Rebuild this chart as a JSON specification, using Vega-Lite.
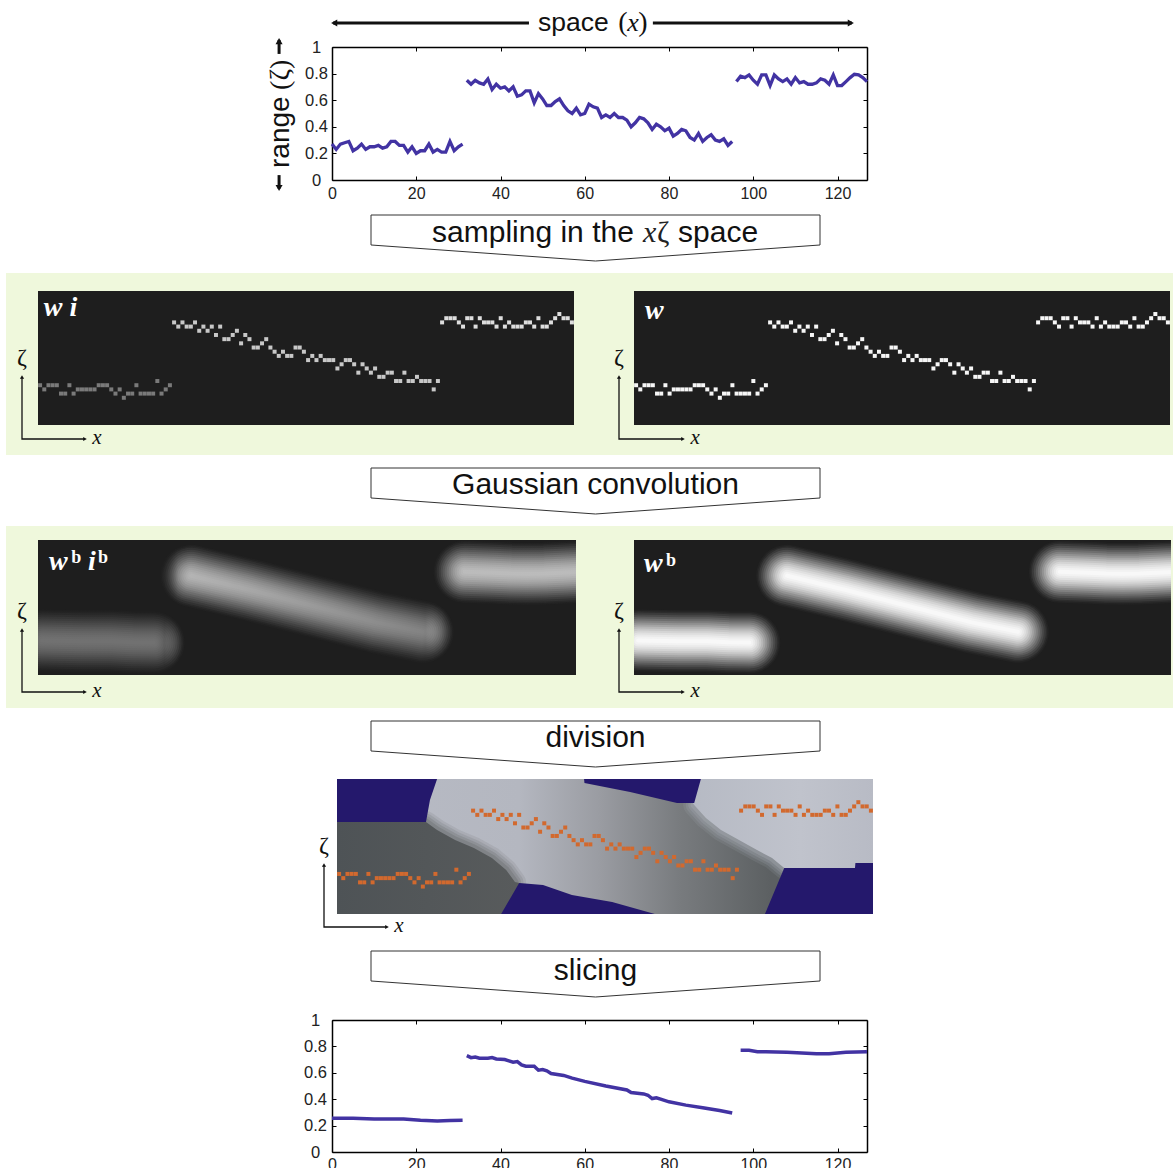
{"$schema":"https://vega.github.io/schema/vega-lite/v6.json","width":1173,"height":1168,"padding":0,"autosize":{"type":"none"},"background":"white","config":{"view":{"stroke":null}},
"resolve":{"scale":{"x":"independent","y":"independent"},"axis":{"x":"independent","y":"independent"}},
"datasets":{
"noisy":[{"x":0,"z":0.27,"b":9,"s":1},{"x":1,"z":0.23,"b":8,"s":1},{"x":2,"z":0.27,"b":9,"s":1},{"x":3,"z":0.28,"b":9,"s":1},{"x":4,"z":0.29,"b":9,"s":1},{"x":5,"z":0.22,"b":7,"s":1},{"x":6,"z":0.24,"b":7,"s":1},{"x":7,"z":0.27,"b":9,"s":1},{"x":8,"z":0.23,"b":7,"s":1},{"x":9,"z":0.25,"b":8,"s":1},{"x":10,"z":0.25,"b":8,"s":1},{"x":11,"z":0.26,"b":8,"s":1},{"x":12,"z":0.24,"b":8,"s":1},{"x":13,"z":0.25,"b":8,"s":1},{"x":14,"z":0.29,"b":9,"s":1},{"x":15,"z":0.29,"b":9,"s":1},{"x":16,"z":0.26,"b":9,"s":1},{"x":17,"z":0.26,"b":8,"s":1},{"x":18,"z":0.21,"b":7,"s":1},{"x":19,"z":0.25,"b":8,"s":1},{"x":20,"z":0.2,"b":6,"s":1},{"x":21,"z":0.22,"b":7,"s":1},{"x":22,"z":0.22,"b":7,"s":1},{"x":23,"z":0.27,"b":9,"s":1},{"x":24,"z":0.21,"b":7,"s":1},{"x":25,"z":0.23,"b":7,"s":1},{"x":26,"z":0.21,"b":7,"s":1},{"x":27,"z":0.21,"b":7,"s":1},{"x":28,"z":0.29,"b":10,"s":1},{"x":29,"z":0.22,"b":7,"s":1},{"x":30,"z":0.25,"b":8,"s":1},{"x":31,"z":0.27,"b":9,"s":1},
{"x":32,"z":0.75,"b":24,"s":2},{"x":33,"z":0.72,"b":23,"s":2},{"x":34,"z":0.75,"b":24,"s":2},{"x":35,"z":0.73,"b":23,"s":2},{"x":36,"z":0.72,"b":23,"s":2},{"x":37,"z":0.76,"b":24,"s":2},{"x":38,"z":0.68,"b":22,"s":2},{"x":39,"z":0.72,"b":23,"s":2},{"x":40,"z":0.69,"b":22,"s":2},{"x":41,"z":0.7,"b":23,"s":2},{"x":42,"z":0.67,"b":21,"s":2},{"x":43,"z":0.7,"b":23,"s":2},{"x":44,"z":0.63,"b":20,"s":2},{"x":45,"z":0.64,"b":20,"s":2},{"x":46,"z":0.67,"b":21,"s":2},{"x":47,"z":0.67,"b":22,"s":2},{"x":48,"z":0.58,"b":19,"s":2},{"x":49,"z":0.65,"b":21,"s":2},{"x":50,"z":0.61,"b":20,"s":2},{"x":51,"z":0.56,"b":18,"s":2},{"x":52,"z":0.56,"b":18,"s":2},{"x":53,"z":0.59,"b":19,"s":2},{"x":54,"z":0.61,"b":20,"s":2},{"x":55,"z":0.56,"b":18,"s":2},{"x":56,"z":0.52,"b":17,"s":2},{"x":57,"z":0.5,"b":16,"s":2},{"x":58,"z":0.54,"b":17,"s":2},{"x":59,"z":0.49,"b":16,"s":2},{"x":60,"z":0.5,"b":16,"s":2},{"x":61,"z":0.57,"b":18,"s":2},{"x":62,"z":0.55,"b":18,"s":2},{"x":63,"z":0.54,"b":17,"s":2},{"x":64,"z":0.47,"b":15,"s":2},{"x":65,"z":0.49,"b":16,"s":2},{"x":66,"z":0.47,"b":15,"s":2},{"x":67,"z":0.5,"b":16,"s":2},{"x":68,"z":0.47,"b":15,"s":2},{"x":69,"z":0.47,"b":15,"s":2},{"x":70,"z":0.45,"b":15,"s":2},{"x":71,"z":0.4,"b":13,"s":2},{"x":72,"z":0.43,"b":14,"s":2},{"x":73,"z":0.47,"b":15,"s":2},{"x":74,"z":0.46,"b":15,"s":2},{"x":75,"z":0.43,"b":14,"s":2},{"x":76,"z":0.38,"b":12,"s":2},{"x":77,"z":0.42,"b":14,"s":2},{"x":78,"z":0.4,"b":13,"s":2},{"x":79,"z":0.37,"b":12,"s":2},{"x":80,"z":0.39,"b":13,"s":2},{"x":81,"z":0.33,"b":11,"s":2},{"x":82,"z":0.35,"b":11,"s":2},{"x":83,"z":0.38,"b":12,"s":2},{"x":84,"z":0.37,"b":12,"s":2},{"x":85,"z":0.32,"b":10,"s":2},{"x":86,"z":0.3,"b":10,"s":2},{"x":87,"z":0.35,"b":12,"s":2},{"x":88,"z":0.29,"b":10,"s":2},{"x":89,"z":0.32,"b":10,"s":2},{"x":90,"z":0.34,"b":11,"s":2},{"x":91,"z":0.3,"b":10,"s":2},{"x":92,"z":0.29,"b":10,"s":2},{"x":93,"z":0.31,"b":10,"s":2},{"x":94,"z":0.26,"b":8,"s":2},{"x":95,"z":0.29,"b":10,"s":2},
{"x":96,"z":0.74,"b":24,"s":3},{"x":97,"z":0.78,"b":25,"s":3},{"x":98,"z":0.77,"b":25,"s":3},{"x":99,"z":0.79,"b":25,"s":3},{"x":100,"z":0.75,"b":24,"s":3},{"x":101,"z":0.72,"b":23,"s":3},{"x":102,"z":0.79,"b":25,"s":3},{"x":103,"z":0.79,"b":25,"s":3},{"x":104,"z":0.71,"b":23,"s":3},{"x":105,"z":0.79,"b":25,"s":3},{"x":106,"z":0.76,"b":24,"s":3},{"x":107,"z":0.74,"b":24,"s":3},{"x":108,"z":0.76,"b":24,"s":3},{"x":109,"z":0.72,"b":23,"s":3},{"x":110,"z":0.77,"b":25,"s":3},{"x":111,"z":0.73,"b":23,"s":3},{"x":112,"z":0.74,"b":24,"s":3},{"x":113,"z":0.72,"b":23,"s":3},{"x":114,"z":0.72,"b":23,"s":3},{"x":115,"z":0.73,"b":23,"s":3},{"x":116,"z":0.76,"b":24,"s":3},{"x":117,"z":0.75,"b":24,"s":3},{"x":118,"z":0.72,"b":23,"s":3},{"x":119,"z":0.79,"b":25,"s":3},{"x":120,"z":0.71,"b":23,"s":3},{"x":121,"z":0.71,"b":23,"s":3},{"x":122,"z":0.74,"b":24,"s":3},{"x":123,"z":0.77,"b":25,"s":3},{"x":124,"z":0.795,"b":26,"s":3},{"x":125,"z":0.79,"b":25,"s":3},{"x":126,"z":0.77,"b":25,"s":3},{"x":127,"z":0.74,"b":24,"s":3}],
"smooth":[{"x":0,"z":0.255,"s":1},{"x":5,"z":0.255,"s":1},{"x":10,"z":0.25,"s":1},{"x":17,"z":0.25,"s":1},{"x":21,"z":0.24,"s":1},{"x":25,"z":0.235,"s":1},{"x":28,"z":0.238,"s":1},{"x":31,"z":0.24,"s":1},
{"x":32,"z":0.73,"s":2},{"x":33,"z":0.715,"s":2},{"x":34,"z":0.72,"s":2},{"x":35,"z":0.71,"s":2},{"x":37,"z":0.71,"s":2},{"x":38,"z":0.715,"s":2},{"x":39,"z":0.705,"s":2},{"x":41,"z":0.7,"s":2},{"x":42,"z":0.69,"s":2},{"x":43,"z":0.68,"s":2},{"x":44,"z":0.685,"s":2},{"x":45,"z":0.66,"s":2},{"x":46,"z":0.65,"s":2},{"x":48,"z":0.65,"s":2},{"x":49,"z":0.62,"s":2},{"x":50,"z":0.625,"s":2},{"x":51,"z":0.615,"s":2},{"x":52,"z":0.595,"s":2},{"x":55,"z":0.58,"s":2},{"x":57,"z":0.56,"s":2},{"x":60,"z":0.535,"s":2},{"x":65,"z":0.5,"s":2},{"x":70,"z":0.47,"s":2},{"x":71,"z":0.45,"s":2},{"x":74,"z":0.44,"s":2},{"x":75,"z":0.43,"s":2},{"x":76,"z":0.405,"s":2},{"x":77,"z":0.41,"s":2},{"x":78,"z":0.4,"s":2},{"x":80,"z":0.38,"s":2},{"x":84,"z":0.355,"s":2},{"x":88,"z":0.335,"s":2},{"x":92,"z":0.315,"s":2},{"x":95,"z":0.295,"s":2},
{"x":97,"z":0.77,"s":3},{"x":99,"z":0.77,"s":3},{"x":101,"z":0.76,"s":3},{"x":103,"z":0.76,"s":3},{"x":108,"z":0.755,"s":3},{"x":115,"z":0.745,"s":3},{"x":118,"z":0.745,"s":3},{"x":122,"z":0.755,"s":3},{"x":127,"z":0.76,"s":3}],
"glow":[{"x":0.5,"z":0.255,"s":1},{"x":10,"z":0.25,"s":1},{"x":17,"z":0.25,"s":1},{"x":22,"z":0.243,"s":1},{"x":27,"z":0.24,"s":1},
{"x":36,"z":0.735,"s":2},{"x":50,"z":0.63,"s":2},{"x":60,"z":0.55,"s":2},{"x":70,"z":0.47,"s":2},{"x":80,"z":0.39,"s":2},{"x":91,"z":0.32,"s":2},
{"x":101,"z":0.765,"s":3},{"x":108,"z":0.757,"s":3},{"x":112,"z":0.752,"s":3},{"x":116,"z":0.75,"s":3},{"x":120,"z":0.752,"s":3},{"x":124,"z":0.757,"s":3},{"x":129,"z":0.765,"s":3}],
"box":[{"x":0,"y":1},{"x":1,"y":1},{"x":1,"y":0.348},{"x":0.5,"y":0},{"x":0,"y":0.348},{"x":0,"y":1}],
"miniL":[{"x":0,"y":1},{"x":0,"y":0},{"x":1,"y":0}],
"miniH":[{"x":0,"y":1,"h":"triangle-up"},{"x":1,"y":0,"h":"triangle-right"}],
"miniX":[{"x":1.19,"y":0.02,"t":"x"}],
"miniZ":[{"x":0,"y":1.3,"t":"ζ"}],
"panelA":[{"x":-0.5,"x1":127.5,"z":0,"z1":1}],
"bndLight":[{"x":84.8,"z":0.807},{"x":87.6,"z":0.711},{"x":91.2,"z":0.622},{"x":95.5,"z":0.548},{"x":99.8,"z":0.474},{"x":103.4,"z":0.415},{"x":106.3,"z":0.341}],
"bndDark":[{"x":20.75,"z":0.681},{"x":23.4,"z":0.622},{"x":27.7,"z":0.548},{"x":32.2,"z":0.489},{"x":36.5,"z":0.415},{"x":39.9,"z":0.326},{"x":42,"z":0.237}]
},
"layer":[
{"data":{"values":[{"x":0,"x1":1,"y":0.6104,"y1":0.7663},{"x":0,"x1":1,"y":0.3938,"y1":0.5497}]},"mark":{"type":"rect","fill":"#eff8dc"},"encoding":{"x":{"field":"x","type":"quantitative","scale":{"domain":[0,1],"range":[6,1173],"nice":false,"zero":false},"axis":null},"x2":{"field":"x1"},"y":{"field":"y","type":"quantitative","scale":{"domain":[0,1],"range":[1168,0],"nice":false,"zero":false},"axis":null},"y2":{"field":"y1"}}},

{"data":{"name":"noisy"},"encoding":{"x":{"field":"x","type":"quantitative","scale":{"domain":[-0.5,127.5],"range":[38,574],"nice":false,"zero":false},"axis":null},"y":{"field":"b","type":"quantitative","scale":{"domain":[-0.5,31.5],"range":[425,291],"nice":false,"zero":false},"axis":null}},"layer":[
{"data":{"values":[{"x":-0.5,"x1":127.5,"b":-0.5,"b1":31.5}]},"mark":{"type":"rect","fill":"#1e1e1e"},"encoding":{"x2":{"field":"x1"},"y2":{"field":"b1"}}},
{"mark":{"type":"square","size":16,"opacity":1,"filled":true},"encoding":{"color":{"field":"s","type":"nominal","scale":{"domain":[1,2,3],"range":["#7a7a7a","#c8c8c8","#dedede"]},"legend":null}}},
{"data":{"values":[{"x":0.9,"b":25.5,"t":"w i"}]},"mark":{"type":"text","font":"Liberation Serif","fontStyle":"italic","fontWeight":"bold","fontSize":28,"color":"white","align":"left","baseline":"alphabetic"},"encoding":{"text":{"field":"t"}}}
]},

{"data":{"name":"noisy"},"encoding":{"x":{"field":"x","type":"quantitative","scale":{"domain":[-0.5,127.5],"range":[634,1170],"nice":false,"zero":false},"axis":null},"y":{"field":"b","type":"quantitative","scale":{"domain":[-0.5,31.5],"range":[425,291],"nice":false,"zero":false},"axis":null}},"layer":[
{"data":{"values":[{"x":-0.5,"x1":127.5,"b":-0.5,"b1":31.5}]},"mark":{"type":"rect","fill":"#1e1e1e"},"encoding":{"x2":{"field":"x1"},"y2":{"field":"b1"}}},
{"mark":{"type":"square","size":16,"opacity":1,"filled":true,"color":"#f6f6f6"},"encoding":{}},
{"data":{"values":[{"x":2.1,"b":24.8,"t":"w"}]},"mark":{"type":"text","font":"Liberation Serif","fontStyle":"italic","fontWeight":"bold","fontSize":28,"color":"white","align":"left","baseline":"alphabetic"},"encoding":{"text":{"field":"t"}}}
]},

{"data":{"name":"glow"},"encoding":{"x":{"field":"x","type":"quantitative","scale":{"domain":[-0.5,127.5],"range":[38,576],"nice":false,"zero":false},"axis":null},"y":{"field":"z","type":"quantitative","scale":{"domain":[0,1],"range":[675,540],"nice":false,"zero":false},"axis":null}},"layer":[
{"data":{"name":"panelA"},"mark":{"type":"rect","fill":"#1e1e1e"},"encoding":{"x2":{"field":"x1"},"y2":{"field":"z1"}}},
{"mark":{"type":"line","stroke":"#232323","strokeWidth":62,"strokeCap":"round","strokeJoin":"round"},"encoding":{"detail":{"field":"s","type":"nominal"}}},
{"mark":{"type":"line","stroke":"#2c2c2c","strokeWidth":59,"strokeCap":"round","strokeJoin":"round"},"encoding":{"detail":{"field":"s","type":"nominal"}}},
{"mark":{"type":"line","stroke":"#3a3a3a","strokeWidth":56,"strokeCap":"round","strokeJoin":"round"},"encoding":{"detail":{"field":"s","type":"nominal"}}},
{"mark":{"type":"line","stroke":"#4a4a4a","strokeWidth":52,"strokeCap":"round","strokeJoin":"round"},"encoding":{"detail":{"field":"s","type":"nominal"}}},
{"mark":{"type":"line","stroke":"#5c5c5c","strokeWidth":48,"strokeCap":"round","strokeJoin":"round"},"encoding":{"detail":{"field":"s","type":"nominal"}}},
{"mark":{"type":"line","stroke":"#6e6e6e","strokeWidth":44,"strokeCap":"round","strokeJoin":"round"},"encoding":{"detail":{"field":"s","type":"nominal"}}},
{"mark":{"type":"line","stroke":"#808080","strokeWidth":40,"strokeCap":"round","strokeJoin":"round"},"encoding":{"detail":{"field":"s","type":"nominal"}}},
{"mark":{"type":"line","stroke":"#929292","strokeWidth":36,"strokeCap":"round","strokeJoin":"round"},"encoding":{"detail":{"field":"s","type":"nominal"}}},
{"mark":{"type":"line","stroke":"#a4a4a4","strokeWidth":32,"strokeCap":"round","strokeJoin":"round"},"encoding":{"detail":{"field":"s","type":"nominal"}}},
{"mark":{"type":"line","stroke":"#b6b6b6","strokeWidth":28,"strokeCap":"round","strokeJoin":"round"},"encoding":{"detail":{"field":"s","type":"nominal"}}},
{"mark":{"type":"line","stroke":"#c6c6c6","strokeWidth":24,"strokeCap":"round","strokeJoin":"round"},"encoding":{"detail":{"field":"s","type":"nominal"}}},
{"mark":{"type":"line","stroke":"#d4d4d4","strokeWidth":20,"strokeCap":"round","strokeJoin":"round"},"encoding":{"detail":{"field":"s","type":"nominal"}}},
{"mark":{"type":"line","stroke":"#e0e0e0","strokeWidth":16,"strokeCap":"round","strokeJoin":"round"},"encoding":{"detail":{"field":"s","type":"nominal"}}},
{"mark":{"type":"line","stroke":"#eaeaea","strokeWidth":12,"strokeCap":"round","strokeJoin":"round"},"encoding":{"detail":{"field":"s","type":"nominal"}}},
{"mark":{"type":"line","stroke":"#f2f2f2","strokeWidth":8,"strokeCap":"round","strokeJoin":"round"},"encoding":{"detail":{"field":"s","type":"nominal"}}},
{"mark":{"type":"line","stroke":"#f8f8f8","strokeWidth":4,"strokeCap":"round","strokeJoin":"round"},"encoding":{"detail":{"field":"s","type":"nominal"}}},
{"data":{"name":"panelA"},"mark":{"type":"rect","fill":{"gradient":"linear","x1":0,"x2":1,"y1":0,"y2":0,"stops":[{"offset":0,"color":"rgba(30,30,30,0.62)"},{"offset":0.235,"color":"rgba(30,30,30,0.62)"},{"offset":0.26,"color":"rgba(30,30,30,0.3)"},{"offset":0.72,"color":"rgba(30,30,30,0.54)"},{"offset":0.75,"color":"rgba(30,30,30,0.28)"},{"offset":1,"color":"rgba(30,30,30,0.28)"}]}},"encoding":{"x2":{"field":"x1"},"y2":{"field":"z1"}}},
{"data":{"values":[{"x":-8,"x1":-0.5,"z":0,"z1":1},{"x":127.5,"x1":136,"z":0,"z1":1}]},"mark":{"type":"rect","fill":"#eff8dc"},"encoding":{"x2":{"field":"x1"},"y2":{"field":"z1"}}},
{"data":{"values":[{"x":2.1,"z":0.778,"t":"w"},{"x":11.4,"z":0.778,"t":"i"}]},"mark":{"type":"text","font":"Liberation Serif","fontStyle":"italic","fontWeight":"bold","fontSize":28,"color":"white","align":"left","baseline":"alphabetic"},"encoding":{"text":{"field":"t"}}},
{"data":{"values":[{"x":7.4,"z":0.83,"t":"b"},{"x":13.8,"z":0.83,"t":"b"}]},"mark":{"type":"text","font":"Liberation Serif","fontWeight":"bold","fontSize":18,"color":"white","align":"left","baseline":"alphabetic"},"encoding":{"text":{"field":"t"}}}
]},

{"data":{"name":"glow"},"encoding":{"x":{"field":"x","type":"quantitative","scale":{"domain":[-0.5,127.5],"range":[634,1171],"nice":false,"zero":false},"axis":null},"y":{"field":"z","type":"quantitative","scale":{"domain":[0,1],"range":[675,540],"nice":false,"zero":false},"axis":null}},"layer":[
{"data":{"name":"panelA"},"mark":{"type":"rect","fill":"#1e1e1e"},"encoding":{"x2":{"field":"x1"},"y2":{"field":"z1"}}},
{"mark":{"type":"line","stroke":"#232323","strokeWidth":62,"strokeCap":"round","strokeJoin":"round"},"encoding":{"detail":{"field":"s","type":"nominal"}}},
{"mark":{"type":"line","stroke":"#2c2c2c","strokeWidth":59,"strokeCap":"round","strokeJoin":"round"},"encoding":{"detail":{"field":"s","type":"nominal"}}},
{"mark":{"type":"line","stroke":"#3a3a3a","strokeWidth":56,"strokeCap":"round","strokeJoin":"round"},"encoding":{"detail":{"field":"s","type":"nominal"}}},
{"mark":{"type":"line","stroke":"#4a4a4a","strokeWidth":52,"strokeCap":"round","strokeJoin":"round"},"encoding":{"detail":{"field":"s","type":"nominal"}}},
{"mark":{"type":"line","stroke":"#5c5c5c","strokeWidth":48,"strokeCap":"round","strokeJoin":"round"},"encoding":{"detail":{"field":"s","type":"nominal"}}},
{"mark":{"type":"line","stroke":"#6e6e6e","strokeWidth":44,"strokeCap":"round","strokeJoin":"round"},"encoding":{"detail":{"field":"s","type":"nominal"}}},
{"mark":{"type":"line","stroke":"#808080","strokeWidth":40,"strokeCap":"round","strokeJoin":"round"},"encoding":{"detail":{"field":"s","type":"nominal"}}},
{"mark":{"type":"line","stroke":"#929292","strokeWidth":36,"strokeCap":"round","strokeJoin":"round"},"encoding":{"detail":{"field":"s","type":"nominal"}}},
{"mark":{"type":"line","stroke":"#a4a4a4","strokeWidth":32,"strokeCap":"round","strokeJoin":"round"},"encoding":{"detail":{"field":"s","type":"nominal"}}},
{"mark":{"type":"line","stroke":"#b6b6b6","strokeWidth":28,"strokeCap":"round","strokeJoin":"round"},"encoding":{"detail":{"field":"s","type":"nominal"}}},
{"mark":{"type":"line","stroke":"#c6c6c6","strokeWidth":24,"strokeCap":"round","strokeJoin":"round"},"encoding":{"detail":{"field":"s","type":"nominal"}}},
{"mark":{"type":"line","stroke":"#d4d4d4","strokeWidth":20,"strokeCap":"round","strokeJoin":"round"},"encoding":{"detail":{"field":"s","type":"nominal"}}},
{"mark":{"type":"line","stroke":"#e0e0e0","strokeWidth":16,"strokeCap":"round","strokeJoin":"round"},"encoding":{"detail":{"field":"s","type":"nominal"}}},
{"mark":{"type":"line","stroke":"#eaeaea","strokeWidth":12,"strokeCap":"round","strokeJoin":"round"},"encoding":{"detail":{"field":"s","type":"nominal"}}},
{"mark":{"type":"line","stroke":"#f2f2f2","strokeWidth":8,"strokeCap":"round","strokeJoin":"round"},"encoding":{"detail":{"field":"s","type":"nominal"}}},
{"mark":{"type":"line","stroke":"#f8f8f8","strokeWidth":4,"strokeCap":"round","strokeJoin":"round"},"encoding":{"detail":{"field":"s","type":"nominal"}}},
{"data":{"values":[{"x":-8,"x1":-0.5,"z":0,"z1":1},{"x":127.5,"x1":129,"z":0,"z1":1}]},"mark":{"type":"rect","fill":"#eff8dc"},"encoding":{"x2":{"field":"x1"},"y2":{"field":"z1"}}},
{"data":{"values":[{"x":1.9,"z":0.763,"t":"w"}]},"mark":{"type":"text","font":"Liberation Serif","fontStyle":"italic","fontWeight":"bold","fontSize":28,"color":"white","align":"left","baseline":"alphabetic"},"encoding":{"text":{"field":"t"}}},
{"data":{"values":[{"x":7.1,"z":0.807,"t":"b"}]},"mark":{"type":"text","font":"Liberation Serif","fontWeight":"bold","fontSize":18,"color":"white","align":"left","baseline":"alphabetic"},"encoding":{"text":{"field":"t"}}}
]},

{"encoding":{"x":{"field":"x","type":"quantitative","scale":{"domain":[-0.5,127.5],"range":[337,873],"nice":false,"zero":false},"axis":null},"y":{"field":"z","type":"quantitative","scale":{"domain":[0,1],"range":[914,779],"nice":false,"zero":false},"axis":null}},"layer":[
{"data":{"name":"panelA"},"mark":{"type":"rect","fill":{"gradient":"linear","x1":0,"x2":1,"y1":0,"y2":0,"stops":[{"offset":0,"color":"#b8bbc5"},{"offset":0.34,"color":"#b4b7c0"},{"offset":0.49,"color":"#9a9ca2"},{"offset":0.64,"color":"#787b7e"},{"offset":0.81,"color":"#5c6062"},{"offset":1,"color":"#5c6062"}]}},"encoding":{"x2":{"field":"x1"},"y2":{"field":"z1"}}},
{"data":{"name":"bndLight"},"mark":{"type":"line","stroke":"#b6bac4","strokeWidth":22,"opacity":0.12,"strokeCap":"round","strokeJoin":"round"},"encoding":{}},
{"data":{"name":"bndLight"},"mark":{"type":"line","stroke":"#b6bac4","strokeWidth":17,"opacity":0.16,"strokeCap":"round","strokeJoin":"round"},"encoding":{}},
{"data":{"name":"bndLight"},"mark":{"type":"line","stroke":"#b6bac4","strokeWidth":12,"opacity":0.2,"strokeCap":"round","strokeJoin":"round"},"encoding":{}},
{"data":{"name":"bndLight"},"mark":{"type":"line","stroke":"#b6bac4","strokeWidth":7,"opacity":0.25,"strokeCap":"round","strokeJoin":"round"},"encoding":{}},
{"data":{"values":[{"x":84,"z":0.84,"z2":1},{"x":84.8,"z":0.807,"z2":1},{"x":87.6,"z":0.711,"z2":1},{"x":91.2,"z":0.622,"z2":1},{"x":95.5,"z":0.548,"z2":1},{"x":99.8,"z":0.474,"z2":1},{"x":103.4,"z":0.415,"z2":1},{"x":106.3,"z":0.341,"z2":1},{"x":127.5,"z":0.341,"z2":1}]},"mark":{"type":"area","orient":"vertical","fill":{"gradient":"linear","x1":0,"x2":1,"y1":0,"y2":0,"stops":[{"offset":0,"color":"#b6bac4"},{"offset":0.6,"color":"#c0c3cc"},{"offset":1,"color":"#b8bbc5"}]}},"encoding":{"y2":{"field":"z2"}}},
{"data":{"name":"bndDark"},"mark":{"type":"line","stroke":"#585b5c","strokeWidth":22,"opacity":0.12,"strokeCap":"round","strokeJoin":"round"},"encoding":{}},
{"data":{"name":"bndDark"},"mark":{"type":"line","stroke":"#585b5c","strokeWidth":17,"opacity":0.16,"strokeCap":"round","strokeJoin":"round"},"encoding":{}},
{"data":{"name":"bndDark"},"mark":{"type":"line","stroke":"#585b5c","strokeWidth":12,"opacity":0.2,"strokeCap":"round","strokeJoin":"round"},"encoding":{}},
{"data":{"name":"bndDark"},"mark":{"type":"line","stroke":"#585b5c","strokeWidth":7,"opacity":0.25,"strokeCap":"round","strokeJoin":"round"},"encoding":{}},
{"data":{"values":[{"x":-0.5,"z":0.681,"z2":0},{"x":20.75,"z":0.681,"z2":0},{"x":23.4,"z":0.622,"z2":0},{"x":27.7,"z":0.548,"z2":0},{"x":32.2,"z":0.489,"z2":0},{"x":36.5,"z":0.415,"z2":0},{"x":39.9,"z":0.326,"z2":0},{"x":42,"z":0.237,"z2":0},{"x":43,"z":0.23,"z2":0}]},"mark":{"type":"area","orient":"vertical","fill":{"gradient":"linear","x1":0,"x2":1,"y1":0,"y2":0,"stops":[{"offset":0,"color":"#4e5356"},{"offset":1,"color":"#585b5c"}]}},"encoding":{"y2":{"field":"z2"}}},
{"data":{"values":[{"x":-0.5,"z":1,"z2":0.681,"r":1},{"x":20.75,"z":1,"z2":0.681,"r":1},{"x":21.7,"z":1,"z2":0.844,"r":1},{"x":23.4,"z":1,"z2":1,"r":1},
{"x":58.5,"z":1,"z2":1,"r":2},{"x":58.6,"z":1,"z2":0.97,"r":2},{"x":69.5,"z":1,"z2":0.904,"r":2},{"x":80.7,"z":1,"z2":0.822,"r":2},{"x":84.8,"z":1,"z2":0.822,"r":2},{"x":86.4,"z":1,"z2":1,"r":2},
{"x":38.7,"z":0,"z2":0,"r":3},{"x":43,"z":0,"z2":0.23,"r":3},{"x":48.7,"z":0,"z2":0.215,"r":3},{"x":55.6,"z":0,"z2":0.141,"r":3},{"x":65.2,"z":0,"z2":0.089,"r":3},{"x":75.4,"z":0,"z2":0,"r":3},
{"x":101.7,"z":0,"z2":0,"r":4},{"x":104.1,"z":0,"z2":0.178,"r":4},{"x":106.3,"z":0,"z2":0.341,"r":4},{"x":123.2,"z":0,"z2":0.341,"r":4},{"x":123.3,"z":0,"z2":0.378,"r":4},{"x":127.5,"z":0,"z2":0.378,"r":4}]},"mark":{"type":"area","orient":"vertical","fill":"#24186c"},"encoding":{"y2":{"field":"z2"},"detail":{"field":"r","type":"nominal"}}}
]},
{"data":{"name":"noisy"},"mark":{"type":"square","size":16,"opacity":1,"filled":true,"color":"#d2692e"},"encoding":{"x":{"field":"x","type":"quantitative","scale":{"domain":[-0.5,127.5],"range":[337,873],"nice":false,"zero":false},"axis":null},"y":{"field":"b","type":"quantitative","scale":{"domain":[-0.5,31.5],"range":[914,779],"nice":false,"zero":false},"axis":null}}},

{"encoding":{"x":{"field":"x","type":"quantitative","scale":{"domain":[0,1],"range":[22,85],"nice":false,"zero":false},"axis":null},"y":{"field":"y","type":"quantitative","scale":{"domain":[0,1],"range":[439,377],"nice":false,"zero":false},"axis":null}},"layer":[
{"data":{"name":"miniL"},"mark":{"type":"line","stroke":"#111111","strokeWidth":1.3,"order":false},"encoding":{}},
{"data":{"name":"miniH"},"mark":{"type":"point","filled":true,"size":18,"color":"#111111","opacity":1},"encoding":{"shape":{"field":"h","type":"nominal","scale":null,"legend":null}}},
{"data":{"name":"miniX"},"mark":{"type":"text","font":"Liberation Serif","fontStyle":"italic","fontSize":21,"color":"#111111"},"encoding":{"text":{"field":"t"}}},
{"data":{"name":"miniZ"},"mark":{"type":"text","font":"Liberation Serif","fontSize":24,"color":"#111111"},"encoding":{"text":{"field":"t"}}}
]},
{"encoding":{"x":{"field":"x","type":"quantitative","scale":{"domain":[0,1],"range":[619,683],"nice":false,"zero":false},"axis":null},"y":{"field":"y","type":"quantitative","scale":{"domain":[0,1],"range":[439,377],"nice":false,"zero":false},"axis":null}},"layer":[
{"data":{"name":"miniL"},"mark":{"type":"line","stroke":"#111111","strokeWidth":1.3,"order":false},"encoding":{}},
{"data":{"name":"miniH"},"mark":{"type":"point","filled":true,"size":18,"color":"#111111","opacity":1},"encoding":{"shape":{"field":"h","type":"nominal","scale":null,"legend":null}}},
{"data":{"name":"miniX"},"mark":{"type":"text","font":"Liberation Serif","fontStyle":"italic","fontSize":21,"color":"#111111"},"encoding":{"text":{"field":"t"}}},
{"data":{"name":"miniZ"},"mark":{"type":"text","font":"Liberation Serif","fontSize":24,"color":"#111111"},"encoding":{"text":{"field":"t"}}}
]},
{"encoding":{"x":{"field":"x","type":"quantitative","scale":{"domain":[0,1],"range":[22,85],"nice":false,"zero":false},"axis":null},"y":{"field":"y","type":"quantitative","scale":{"domain":[0,1],"range":[692,630],"nice":false,"zero":false},"axis":null}},"layer":[
{"data":{"name":"miniL"},"mark":{"type":"line","stroke":"#111111","strokeWidth":1.3,"order":false},"encoding":{}},
{"data":{"name":"miniH"},"mark":{"type":"point","filled":true,"size":18,"color":"#111111","opacity":1},"encoding":{"shape":{"field":"h","type":"nominal","scale":null,"legend":null}}},
{"data":{"name":"miniX"},"mark":{"type":"text","font":"Liberation Serif","fontStyle":"italic","fontSize":21,"color":"#111111"},"encoding":{"text":{"field":"t"}}},
{"data":{"name":"miniZ"},"mark":{"type":"text","font":"Liberation Serif","fontSize":24,"color":"#111111"},"encoding":{"text":{"field":"t"}}}
]},
{"encoding":{"x":{"field":"x","type":"quantitative","scale":{"domain":[0,1],"range":[619,683],"nice":false,"zero":false},"axis":null},"y":{"field":"y","type":"quantitative","scale":{"domain":[0,1],"range":[692,630],"nice":false,"zero":false},"axis":null}},"layer":[
{"data":{"name":"miniL"},"mark":{"type":"line","stroke":"#111111","strokeWidth":1.3,"order":false},"encoding":{}},
{"data":{"name":"miniH"},"mark":{"type":"point","filled":true,"size":18,"color":"#111111","opacity":1},"encoding":{"shape":{"field":"h","type":"nominal","scale":null,"legend":null}}},
{"data":{"name":"miniX"},"mark":{"type":"text","font":"Liberation Serif","fontStyle":"italic","fontSize":21,"color":"#111111"},"encoding":{"text":{"field":"t"}}},
{"data":{"name":"miniZ"},"mark":{"type":"text","font":"Liberation Serif","fontSize":24,"color":"#111111"},"encoding":{"text":{"field":"t"}}}
]},
{"encoding":{"x":{"field":"x","type":"quantitative","scale":{"domain":[0,1],"range":[324,387],"nice":false,"zero":false},"axis":null},"y":{"field":"y","type":"quantitative","scale":{"domain":[0,1],"range":[927,865],"nice":false,"zero":false},"axis":null}},"layer":[
{"data":{"name":"miniL"},"mark":{"type":"line","stroke":"#111111","strokeWidth":1.3,"order":false},"encoding":{}},
{"data":{"name":"miniH"},"mark":{"type":"point","filled":true,"size":18,"color":"#111111","opacity":1},"encoding":{"shape":{"field":"h","type":"nominal","scale":null,"legend":null}}},
{"data":{"name":"miniX"},"mark":{"type":"text","font":"Liberation Serif","fontStyle":"italic","fontSize":21,"color":"#111111"},"encoding":{"text":{"field":"t"}}},
{"data":{"name":"miniZ"},"mark":{"type":"text","font":"Liberation Serif","fontSize":24,"color":"#111111"},"encoding":{"text":{"field":"t"}}}
]},

{"data":{"name":"noisy"},"mark":{"type":"line","stroke":"#4233a3","strokeWidth":3.3},"encoding":{"detail":{"field":"s","type":"nominal"},
"x":{"field":"x","type":"quantitative","scale":{"domain":[0,127],"range":[332,867],"nice":false,"zero":false},"axis":{"orient":"bottom","offset":-988,"values":[0,20,40,60,80,100,120],"format":"d","grid":false,"title":null,"domainColor":"#000000","domainWidth":1.5,"tickColor":"#000000","tickSize":-4,"labelFont":"Liberation Sans","labelFontSize":16,"labelColor":"#222222","labelPadding":9,"labelFlush":false}},
"y":{"field":"z","type":"quantitative","scale":{"domain":[0,1],"range":[180,47],"nice":false,"zero":false},"axis":{"orient":"left","offset":-332,"values":[0,0.2,0.4,0.6,0.8,1],"format":"~g","grid":false,"title":null,"domainColor":"#000000","domainWidth":1.5,"tickColor":"#000000","tickSize":-4,"labelFont":"Liberation Sans","labelFontSize":16.5,"labelColor":"#222222","labelAlign":"center","labelPadding":20}}}},
{"data":{"name":"noisy"},"mark":{"type":"line","opacity":0},"encoding":{"detail":{"field":"s","type":"nominal"},
"x":{"field":"x","type":"quantitative","scale":{"domain":[0,127],"range":[332,867],"nice":false,"zero":false},"axis":{"orient":"top","offset":-47,"values":[0,20,40,60,80,100,120],"grid":false,"title":null,"labels":false,"domainColor":"#000000","domainWidth":1.5,"tickColor":"#000000","tickSize":-4}},
"y":{"field":"z","type":"quantitative","scale":{"domain":[0,1],"range":[180,47],"nice":false,"zero":false},"axis":{"orient":"right","offset":-306,"values":[0,0.2,0.4,0.6,0.8,1],"grid":false,"title":null,"labels":false,"domainColor":"#000000","domainWidth":1.5,"tickColor":"#000000","tickSize":-4}}}},

{"data":{"name":"smooth"},"mark":{"type":"line","stroke":"#4233a3","strokeWidth":3.5},"encoding":{"detail":{"field":"s","type":"nominal"},
"x":{"field":"x","type":"quantitative","scale":{"domain":[0,127],"range":[332,867],"nice":false,"zero":false},"axis":{"orient":"bottom","offset":-16,"values":[0,20,40,60,80,100,120],"format":"d","grid":false,"title":null,"domainColor":"#000000","domainWidth":1.5,"tickColor":"#000000","tickSize":-4,"labelFont":"Liberation Sans","labelFontSize":16,"labelColor":"#222222","labelPadding":8,"labelFlush":false}},
"y":{"field":"z","type":"quantitative","scale":{"domain":[0,1],"range":[1152,1020],"nice":false,"zero":false},"axis":{"orient":"left","offset":-332,"values":[0,0.2,0.4,0.6,0.8,1],"format":"~g","grid":false,"title":null,"domainColor":"#000000","domainWidth":1.5,"tickColor":"#000000","tickSize":-4,"labelFont":"Liberation Sans","labelFontSize":16.5,"labelColor":"#222222","labelAlign":"center","labelPadding":21}}}},
{"data":{"name":"smooth"},"mark":{"type":"line","opacity":0},"encoding":{"detail":{"field":"s","type":"nominal"},
"x":{"field":"x","type":"quantitative","scale":{"domain":[0,127],"range":[332,867],"nice":false,"zero":false},"axis":{"orient":"top","offset":-1020,"values":[0,20,40,60,80,100,120],"grid":false,"title":null,"labels":false,"domainColor":"#000000","domainWidth":1.5,"tickColor":"#000000","tickSize":-4}},
"y":{"field":"z","type":"quantitative","scale":{"domain":[0,1],"range":[1152,1020],"nice":false,"zero":false},"axis":{"orient":"right","offset":-306,"values":[0,0.2,0.4,0.6,0.8,1],"grid":false,"title":null,"labels":false,"domainColor":"#000000","domainWidth":1.5,"tickColor":"#000000","tickSize":-4}}}},

{"encoding":{"x":{"field":"x","type":"quantitative","scale":{"domain":[0,1],"range":[330,855],"nice":false,"zero":false},"axis":null},"y":{"field":"y","type":"quantitative","scale":{"domain":[0,1],"range":[192,23],"nice":false,"zero":false},"axis":null}},"layer":[
{"data":{"values":[{"x":0.006,"y":1,"s":"a"},{"x":0.379,"y":1,"s":"a"},{"x":0.615,"y":1,"s":"b"},{"x":0.994,"y":1,"s":"b"},{"x":-0.097,"y":0.9,"s":"c"},{"x":-0.097,"y":0.817,"s":"c"},{"x":-0.097,"y":0.1,"s":"d"},{"x":-0.097,"y":0.02,"s":"d"}]},"mark":{"type":"line","stroke":"#111111","strokeWidth":3,"order":false},"encoding":{"detail":{"field":"s","type":"nominal"}}},
{"data":{"values":[{"x":0.008,"y":1,"h":"triangle-left"},{"x":0.992,"y":1,"h":"triangle-right"},{"x":-0.097,"y":0.893,"h":"triangle-up"},{"x":-0.097,"y":0.024,"h":"triangle-down"}]},"mark":{"type":"point","filled":true,"size":50,"color":"#111111","opacity":1},"encoding":{"shape":{"field":"h","type":"nominal","scale":null,"legend":null}}},
{"data":{"values":[{"x":0.396,"y":1,"t":"space"}]},"mark":{"type":"text","font":"Liberation Sans","fontSize":26.5,"align":"left","baseline":"middle","color":"#111111"},"encoding":{"text":{"field":"t"}}},
{"data":{"values":[{"x":0.549,"y":1,"t":"("},{"x":0.587,"y":1,"t":")"}]},"mark":{"type":"text","font":"Liberation Serif","fontSize":28,"align":"left","baseline":"middle","color":"#111111"},"encoding":{"text":{"field":"t"}}},
{"data":{"values":[{"x":0.566,"y":1,"t":"x"}]},"mark":{"type":"text","font":"Liberation Serif","fontStyle":"italic","fontSize":26,"align":"left","baseline":"middle","color":"#111111"},"encoding":{"text":{"field":"t"}}},
{"data":{"values":[{"x":-0.078,"y":0.142,"t":"range"}]},"mark":{"type":"text","font":"Liberation Sans","fontSize":28,"angle":270,"align":"left","baseline":"alphabetic","color":"#111111"},"encoding":{"text":{"field":"t"}}},
{"data":{"values":[{"x":-0.078,"y":0.604,"t":"(ζ)"}]},"mark":{"type":"text","font":"Liberation Serif","fontSize":28,"angle":270,"align":"left","baseline":"alphabetic","color":"#111111"},"encoding":{"text":{"field":"t"}}}
]},

{"encoding":{"x":{"field":"x","type":"quantitative","scale":{"domain":[0,1],"range":[371,820],"nice":false,"zero":false},"axis":null},"y":{"field":"y","type":"quantitative","scale":{"domain":[0,1],"range":[261,215],"nice":false,"zero":false},"axis":null}},"layer":[
{"data":{"name":"box"},"mark":{"type":"line","stroke":"#333333","strokeWidth":1,"order":false},"encoding":{}},
{"data":{"values":[{"x":0.136,"y":0.61,"t":"sampling in the"},{"x":0.684,"y":0.61,"t":"space"}]},"mark":{"type":"text","font":"Liberation Sans","fontSize":30,"align":"left","baseline":"middle","color":"#111111"},"encoding":{"text":{"field":"t"}}},
{"data":{"values":[{"x":0.606,"y":0.61,"t":"x"}]},"mark":{"type":"text","font":"Liberation Serif","fontStyle":"italic","fontSize":30,"align":"left","baseline":"middle","color":"#222222"},"encoding":{"text":{"field":"t"}}},
{"data":{"values":[{"x":0.637,"y":0.61,"t":"ζ"}]},"mark":{"type":"text","font":"Liberation Serif","fontSize":30,"align":"left","baseline":"middle","color":"#222222"},"encoding":{"text":{"field":"t"}}}
]},
{"encoding":{"x":{"field":"x","type":"quantitative","scale":{"domain":[0,1],"range":[371,820],"nice":false,"zero":false},"axis":null},"y":{"field":"y","type":"quantitative","scale":{"domain":[0,1],"range":[514,468],"nice":false,"zero":false},"axis":null}},"layer":[
{"data":{"name":"box"},"mark":{"type":"line","stroke":"#333333","strokeWidth":1,"order":false},"encoding":{}},
{"data":{"values":[{"x":0.5,"y":0.63,"t":"Gaussian convolution"}]},"mark":{"type":"text","font":"Liberation Sans","fontSize":30,"align":"center","baseline":"middle","color":"#111111"},"encoding":{"text":{"field":"t"}}}
]},
{"encoding":{"x":{"field":"x","type":"quantitative","scale":{"domain":[0,1],"range":[371,820],"nice":false,"zero":false},"axis":null},"y":{"field":"y","type":"quantitative","scale":{"domain":[0,1],"range":[767,721],"nice":false,"zero":false},"axis":null}},"layer":[
{"data":{"name":"box"},"mark":{"type":"line","stroke":"#333333","strokeWidth":1,"order":false},"encoding":{}},
{"data":{"values":[{"x":0.5,"y":0.63,"t":"division"}]},"mark":{"type":"text","font":"Liberation Sans","fontSize":30,"align":"center","baseline":"middle","color":"#111111"},"encoding":{"text":{"field":"t"}}}
]},
{"encoding":{"x":{"field":"x","type":"quantitative","scale":{"domain":[0,1],"range":[371,820],"nice":false,"zero":false},"axis":null},"y":{"field":"y","type":"quantitative","scale":{"domain":[0,1],"range":[997,951],"nice":false,"zero":false},"axis":null}},"layer":[
{"data":{"name":"box"},"mark":{"type":"line","stroke":"#333333","strokeWidth":1,"order":false},"encoding":{}},
{"data":{"values":[{"x":0.5,"y":0.57,"t":"slicing"}]},"mark":{"type":"text","font":"Liberation Sans","fontSize":30,"align":"center","baseline":"middle","color":"#111111"},"encoding":{"text":{"field":"t"}}}
]}
]}
